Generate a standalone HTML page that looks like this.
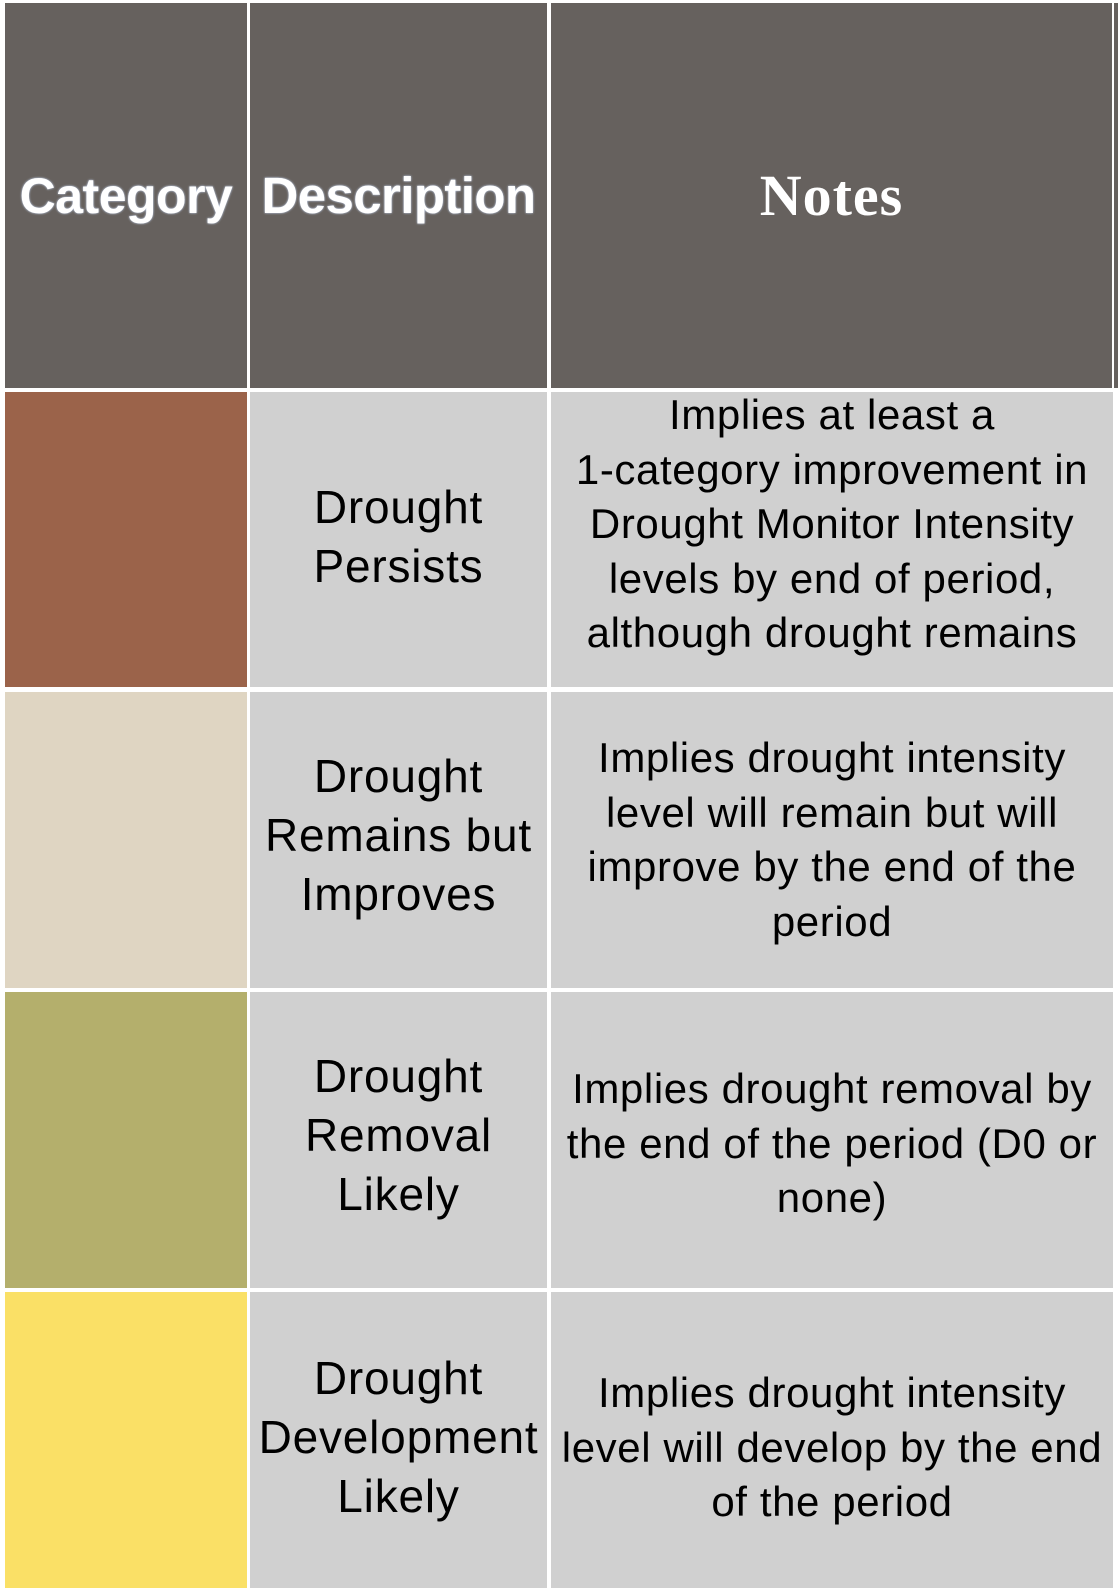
<!DOCTYPE html>
<html><head><meta charset="utf-8">
<style>
html,body{margin:0;padding:0;background:#fff;}
body{width:1118px;height:1589px;position:relative;overflow:hidden;font-family:"Liberation Sans","DejaVu Sans",sans-serif;}
.c{position:absolute;display:flex;align-items:center;justify-content:center;text-align:center;box-sizing:border-box;}
.h{background:#66615e;color:#fff;font-weight:bold;}
.g{background:#d0d0d0;color:#000;}
.d{font-size:46px;line-height:59px;letter-spacing:0.8px;}
.n{font-size:42px;line-height:54.5px;letter-spacing:0.6px;}
</style></head><body>
<div class="c h" style="left:5px;top:3px;width:242px;height:385px;font-size:50px;letter-spacing:-0.5px;text-shadow:0 0 2px #cfe0ff;">Category</div>
<div class="c h" style="left:250px;top:3px;width:297px;height:385px;font-size:51px;letter-spacing:-0.6px;text-shadow:0 0 2px #cfe0ff;">Description</div>
<div class="c h" style="left:551px;top:3px;width:561px;height:385px;font-size:58px;letter-spacing:1px;font-family:'Liberation Serif',serif;">Notes</div>
<div class="c h" style="left:1114px;top:3px;width:4px;height:385px;"></div>

<div class="c" style="left:5px;top:392px;width:242px;height:295px;background:#9b634a;"></div>
<div class="c g d" style="left:250px;top:392px;width:297px;height:295px;padding-bottom:6px;">Drought<br>Persists</div>
<div class="c g n" style="left:551px;top:392px;width:562px;height:295px;padding-bottom:30px;">Implies at least a<br>1-category improvement in<br>Drought Monitor Intensity<br>levels by end of period,<br>although drought remains</div>

<div class="c" style="left:5px;top:692px;width:242px;height:296px;background:#dfd5c2;"></div>
<div class="c g d" style="left:250px;top:692px;width:297px;height:296px;padding-bottom:10px;">Drought<br>Remains but<br>Improves</div>
<div class="c g n" style="left:551px;top:692px;width:562px;height:296px;">Implies drought intensity<br>level will remain but will<br>improve by the end of the<br>period</div>

<div class="c" style="left:5px;top:992px;width:242px;height:296px;background:#b4af6c;"></div>
<div class="c g d" style="left:250px;top:992px;width:297px;height:296px;padding-bottom:10px;">Drought<br>Removal<br>Likely</div>
<div class="c g n" style="left:551px;top:992px;width:562px;height:296px;padding-top:8px;">Implies drought removal by<br>the end of the period (D0 or<br>none)</div>

<div class="c" style="left:5px;top:1292px;width:242px;height:296px;background:#fae066;"></div>
<div class="c g d" style="left:250px;top:1292px;width:297px;height:296px;padding-bottom:6px;">Drought<br>Development<br>Likely</div>
<div class="c g n" style="left:551px;top:1292px;width:562px;height:296px;padding-top:16px;">Implies drought intensity<br>level will develop by the end<br>of the period</div>
</body></html>
